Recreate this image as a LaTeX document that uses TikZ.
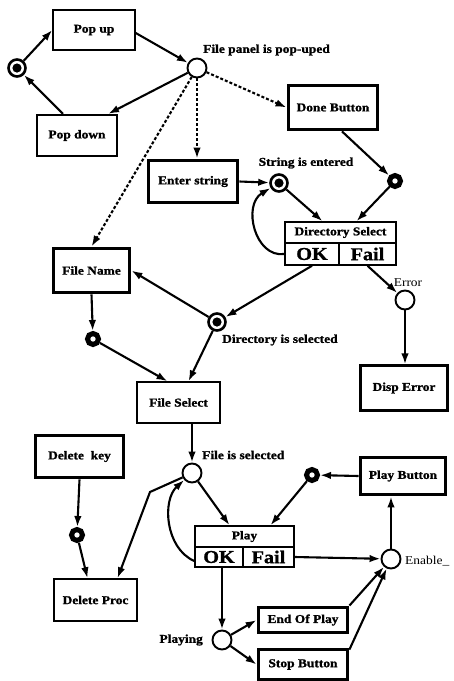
\documentclass[tikz,border=0pt]{standalone}
\usepackage{fontspec}
\usetikzlibrary{arrows.meta}
\newfontfamily\dia{Liberation Serif}[FakeStretch=1.12, BoldFeatures={FakeBold=1.2}]

\tikzset{
  lbl/.style={font=\dia\bfseries\fontsize{12}{14}\selectfont},
  thinbox/.style={draw, line width=1.5pt, fill=white, inner sep=0pt, lbl},
  midbox/.style={thinbox, line width=2.2pt},
  thickbox/.style={thinbox, line width=3.8pt},
  okfail/.style={thinbox, font=\dia\bfseries\fontsize{18}{20}\selectfont},
  place/.style={circle, draw, line width=1.9pt, fill=white, minimum size=19pt, inner sep=0pt},
  token/.style={place, line width=2.6pt, minimum size=17pt},
  ring/.style={circle, draw, line width=5pt, minimum size=11pt, inner sep=0pt},
  arc/.style={line width=2.1pt, -{Latex[length=11pt,width=7.5pt]}},
  dasharc/.style={arc, dash pattern=on 3pt off 2pt},
  plbl/.style={lbl, inner sep=0pt},
  rlbl/.style={font=\dia\fontsize{12}{14}\selectfont, inner sep=0pt}
}

\begin{document}
\begin{tikzpicture}[x=1pt,y=-1pt]
\useasboundingbox (0,0) rectangle (454,681);

% --- file panel open/close loop
\node[thinbox, minimum width=82pt, minimum height=40pt] (popup) at (94,30) {Pop up};
\node[midbox, minimum width=80pt, minimum height=41pt] (popdown) at (77,135.5) {Pop down};
\node[token] (lefttok) at (17,68) {};
\node[place] (panel) at (197,68) {};
\node[plbl, anchor=west] (panellbl) at (203,50) {File panel is pop-uped};

% --- directory entry
\node[thickbox, minimum width=89pt, minimum height=44pt] (done) at (333,107.5) {Done Button};
\node[thickbox, minimum width=89pt, minimum height=42pt] (enter) at (193,181.5) {Enter string};
\node[token] (strent) at (279,183) {};
\node[plbl] (strentlbl) at (306,163) {String is entered};
\node[ring] (donering) at (395,181) {};

\node[thinbox, minimum width=111pt, minimum height=21pt] (dirhead) at (340.5,232.5) {Directory Select};
\node[okfail, minimum width=54pt, minimum height=22pt] (dirok) at (312,254) {OK};
\node[okfail, minimum width=57pt, minimum height=22pt] (dirfail) at (367.5,254) {Fail};

\node[place] (error) at (405,300) {};
\node[rlbl] (errorlbl) at (408,283) {Error};
\node[midbox, minimum width=87pt, minimum height=45pt] (disperr) at (404,388) {Disp Error};

\node[thickbox, minimum width=76pt, minimum height=44pt] (filename) at (91.5,270.5) {File Name};
\node[ring] (fnring) at (93,339) {};
\node[token] (dircircle) at (217,322) {};
\node[plbl, anchor=west] (dirlbl) at (222,340) {Directory is selected};

% --- file selection and playback
\node[thinbox, minimum width=83pt, minimum height=41pt] (filesel) at (178.5,402.5) {File Select};
\node[place] (filecircle) at (192,473) {};
\node[plbl, anchor=west] (filelbl) at (202,455) {File is selected};

\node[thickbox, minimum width=88pt, minimum height=42pt] (delkey) at (79.5,456.5) {Delete\ \ key};
\node[ring] (dkring) at (77,535) {};
\node[thinbox, minimum width=83pt, minimum height=42pt] (delproc) at (95.5,600) {Delete Proc};
\coordinate (dpbend) at (150,492);

\node[thinbox, minimum width=99pt, minimum height=21pt] (playhead) at (244.5,536.5) {Play};
\node[okfail, minimum width=48pt, minimum height=20pt] (playok) at (219,557) {OK};
\node[okfail, minimum width=51pt, minimum height=20pt] (playfail) at (268.5,557) {Fail};

\node[thickbox, minimum width=85pt, minimum height=37pt] (playbtn) at (403,476) {Play Button};
\node[ring] (pbring) at (312,475) {};
\node[place] (enable) at (391,559) {};
\node[rlbl, anchor=west] (enablelbl) at (405,561) {Enable\_};

\node[thickbox, minimum width=89pt, minimum height=25pt] (endplay) at (303,620) {End Of Play};
\node[thickbox, minimum width=89pt, minimum height=30pt] (stop) at (303,664.5) {Stop Button};
\node[place] (playing) at (222,640) {};
\node[plbl, anchor=east] (playinglbl) at (203,640) {Playing};

% marking dots inside the token places
\foreach \t in {lefttok, strent, dircircle}
  \fill (\t.center) circle (4.6pt);

% --- connectors: panel loop
\draw[arc] (lefttok) -- (popup.west);
\draw[arc] ([yshift=-3pt]popup.east) -- (panel);
\draw[arc] (panel) -- ([xshift=-10pt]popdown.north east);
\draw[arc] ([xshift=-14pt]popdown.north) -- (lefttok);

% --- connectors: optional actions from the open panel
\draw[dasharc] (panel) -- (done.west);
\draw[dasharc] (panel.south) -- (panel.south |- enter.north);
\draw[dasharc] (panel) -- (filename.north);

% --- connectors: directory selection
\draw[arc] (enter.east) -- (strent);
\draw[arc] (strent) -- ([xshift=-18pt]dirhead.north);
\draw[arc] ([xshift=9pt]done.south) -- (donering);
\draw[arc] (donering) -- ([xshift=16pt]dirhead.north);
\draw[arc] (dirok.west) .. controls (255,258) and (242,205) .. (strent);
\draw[arc] (dirok.south) -- (dircircle);
\draw[arc] (dirfail.south) -- (error);
\draw[arc] (error) -- (error |- disperr.north);
\draw[arc] (dircircle) -- (filename.east);
\draw[arc] (filename.south) -- (fnring);
\draw[arc] (fnring) -- ([xshift=-11pt]filesel.north);
\draw[arc] (dircircle) -- ([xshift=10pt]filesel.north);

% --- connectors: file handling
\draw[arc] (filecircle |- filesel.south) -- (filecircle);
\draw[arc] (delkey.south) -- (dkring);
\draw[arc] (dkring) -- ([xshift=-8pt]delproc.north);
\draw[arc] (filecircle.205) -- (dpbend) -- ([xshift=22pt]delproc.north);
\draw[arc] ([yshift=-4pt]playok.west) .. controls (165,548) and (162,500) .. (filecircle);
\draw[arc] (filecircle) -- ([xshift=-15pt]playhead.north);
\draw[arc] (pbring) -- ([xshift=26pt]playhead.north);
\draw[arc] (playbtn.west) -- (pbring);
\draw[arc] (playfail.east) -- (enable);
\draw[arc] (enable) -- (enable |- playbtn.south);
\draw[arc] (playing |- playok.south) -- (playing);
\draw[arc] (playing) -- (endplay.west);
\draw[arc] (playing) -- (stop.west);
\draw[arc] (endplay.north east) -- (enable);
\draw[arc] ([yshift=-2pt]stop.north east) -- (enable);
\end{tikzpicture}
\end{document}
